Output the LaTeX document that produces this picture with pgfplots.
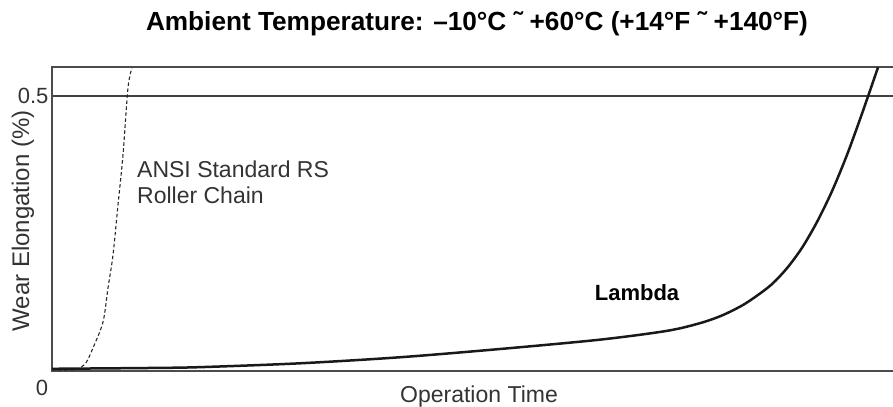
\documentclass[border=0pt]{standalone}
\usepackage{fontspec}
\setmainfont{Liberation Sans}
\usepackage{pgfplots}
\pgfplotsset{compat=1.18}
\begin{document}
\begin{tikzpicture}[x=1bp,y=1bp]
\path[use as bounding box] (0,0) rectangle (893,406);
\begin{axis}[
  at={(52bp,35bp)}, anchor=south west,
  scale only axis, width=841bp, height=304bp,
  xmin=0, xmax=841, ymin=0, ymax=0.5527,
  axis line style={draw=none},
  xtick=\empty, ytick={0.5}, yticklabels={0.5},
  ymajorgrids, grid style={line width=1.2bp, black!75},
  major tick length=0pt,
  yticklabel style={font=\fontsize{22bp}{26bp}\selectfont, text=black!80},
  /pgf/number format/assume math mode=true,
  clip=false]
\draw[line width=1.5bp, black!70] (rel axis cs:1,1) -- (rel axis cs:0,1) -- (rel axis cs:0,0) -- (rel axis cs:1,0);
% ANSI Standard RS Roller Chain (dashed)
\addplot[black!85, line width=1.1bp, dash pattern=on 3.5bp off 2.5bp, smooth] coordinates {
 (0,0.002) (18,0.002) (26,0.004) (34,0.015) (41,0.042) (51,0.089) (56,0.151)
 (61,0.211) (66,0.302) (71,0.393) (76,0.515) (80,0.551)};
% Lambda (solid)
\addplot[black!90, line width=2.5bp, smooth] coordinates {
 (0,0.004) (98,0.0055) (148,0.007) (248,0.014) (348,0.025) (448,0.040)
 (548,0.057) (615,0.073) (648,0.087) (670,0.101) (690,0.119) (705,0.137)
 (720,0.158) (735,0.187) (750,0.224) (765,0.271) (780,0.327) (795,0.393)
 (810,0.468) (826,0.552)};
\end{axis}
\node[anchor=base, font=\bfseries\fontsize{26.2bp}{31bp}\selectfont] at (477,376) {Ambient Temperature: –10°C ˜ +60°C (+14°F ˜ +140°F)};
\node[rotate=90, anchor=center, text=black!80, font=\fontsize{24bp}{28bp}\selectfont] at (23,185) {Wear Elongation (\%)};
\node[anchor=center, text=black!80, font=\fontsize{22bp}{26bp}\selectfont] at (42,18) {0};
\node[anchor=base, text=black!80, font=\fontsize{23bp}{27bp}\selectfont] at (479,4) {Operation Time};
\node[anchor=base west, inner sep=0pt, text=black!80, font=\fontsize{23bp}{27bp}\selectfont] at (137,229) {ANSI Standard RS};
\node[anchor=base west, inner sep=0pt, text=black!80, font=\fontsize{23bp}{27bp}\selectfont] at (137,203) {Roller Chain};
\node[anchor=base, inner sep=0pt, font=\bfseries\fontsize{22bp}{26bp}\selectfont] at (637,106) {Lambda};
\end{tikzpicture}
\end{document}
